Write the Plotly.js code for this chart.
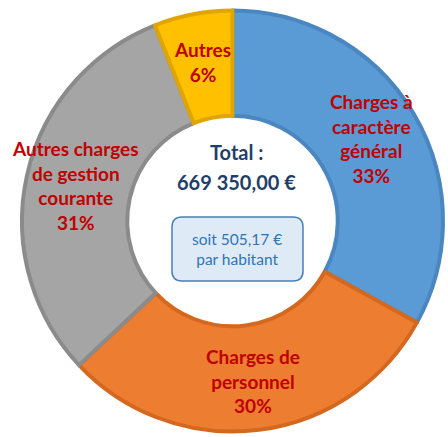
<!DOCTYPE html>
<html><head><meta charset="utf-8">
<script src="https://cdn.plot.ly/plotly-3.0.1.min.js"></script>
<style>html,body{margin:0;padding:0;background:#fff}#chart{width:448px;height:437px}</style>
</head><body><div id="chart"></div>
<script>
// Data
const categories = ["Charges à<br>caractère<br>général", "Charges de<br>personnel", "Autres charges<br>de gestion<br>courante", "Autres"];
const shares = [33, 30, 31, 6];
const fillColors = ["#5B9BD5", "#ED7D31", "#A5A5A5", "#FFC000"];
const lineColors = ["#4A86C0", "#D5681F", "#8B8B8B", "#E0A500"];
const totalLabel = "Total :";
const totalValue = "669 350,00 €";
const perHabitant = ["soit 505,17 €", "par habitant"];

// Layout geometry (pixels)
const M = {l: 22, r: 5, t: 10, b: 5};
const W = 448 - M.l - M.r, H = 437 - M.t - M.b;
const px = x => (x - M.l) / W;
const py = y => 1 - (y - M.t) / H;
const HOLE = 0.5;

// label annotations computed from the data (mid-angle of each slice, mid-ring radius)
const total = shares.reduce((a, b) => a + b, 0);
let cum = 0;
const labelAnns = shares.map((v, i) => {
  const theta = (cum + v / 2) / total * 2 * Math.PI;
  cum += v;
  const rr = 0.5 * (1 + HOLE) / 2 * 1.02;
  return {
    xref: 'paper', yref: 'paper',
    x: 0.5 + rr * Math.sin(theta), y: 0.5 + rr * Math.cos(theta),
    text: '<b>' + categories[i] + '<br>' + v + '%</b>',
    showarrow: false, xanchor: 'center', yanchor: 'middle',
    font: {family: 'Lato, sans-serif', size: 19, color: '#C00000'}
  };
});

const centerAnns = [
  {xref: 'paper', yref: 'paper', x: px(236), y: py(152), text: '<b>' + totalLabel + '</b>', showarrow: false,
   font: {family: 'Lato, sans-serif', size: 20, color: '#1F3F6B'}},
  {xref: 'paper', yref: 'paper', x: px(236), y: py(182), text: '<b>' + totalValue + '</b>', showarrow: false,
   font: {family: 'Lato, sans-serif', size: 20, color: '#1F3F6B'}},
  {xref: 'paper', yref: 'paper', x: px(237), y: py(249), text: perHabitant.join('<br>'), showarrow: false,
   font: {family: 'Lato, sans-serif', size: 15.5, color: '#2E75B6'}}
];

// rounded box
function roundRect(x0, y0, x1, y1, r) {
  const X = px, Y = py;
  return `M${X(x0 + r)},${Y(y0)} L${X(x1 - r)},${Y(y0)} Q${X(x1)},${Y(y0)} ${X(x1)},${Y(y0 + r)} ` +
         `L${X(x1)},${Y(y1 - r)} Q${X(x1)},${Y(y1)} ${X(x1 - r)},${Y(y1)} ` +
         `L${X(x0 + r)},${Y(y1)} Q${X(x0)},${Y(y1)} ${X(x0)},${Y(y1 - r)} ` +
         `L${X(x0)},${Y(y0 + r)} Q${X(x0)},${Y(y0)} ${X(x0 + r)},${Y(y0)} Z`;
}

const data = [{
  type: 'pie',
  labels: categories,
  values: shares,
  hole: HOLE,
  sort: false,
  direction: 'clockwise',
  rotation: 0,
  textinfo: 'none',
  hoverinfo: 'skip',
  marker: {colors: fillColors, line: {color: lineColors, width: 4}},
  showlegend: false
}];

const layout = {
  width: 448, height: 437,
  margin: M,
  paper_bgcolor: '#ffffff',
  showlegend: false,
  annotations: labelAnns.concat(centerAnns),
  shapes: [{type: 'path', xref: 'paper', yref: 'paper', path: roundRect(172, 217, 303, 281, 10),
            fillcolor: '#DEEBF7', line: {color: '#4A7EBB', width: 1.5}, layer: 'below'}]
};

Plotly.newPlot('chart', data, layout, {displayModeBar: false, staticPlot: true});
</script>
</body></html>
